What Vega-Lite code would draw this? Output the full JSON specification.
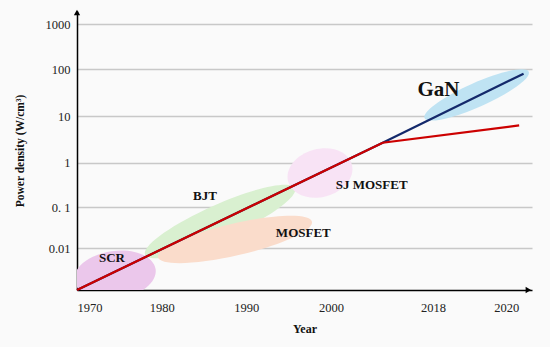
{
  "$schema": "https://vega.github.io/schema/vega-lite/v6.json",
  "autosize": "none",
  "width": 455,
  "height": 279,
  "padding": {"left": 77, "top": 11, "right": 18, "bottom": 57},
  "background": "#fafafa",
  "config": {"view": {"stroke": null}, "font": "Liberation Serif"},
  "datasets": {
    "regions": [
      {"name": "SCR", "year": 1974.49, "value": 0.00229},
      {"name": "BJT", "year": 1986.89, "value": 0.0451},
      {"name": "MOSFET", "year": 1988.66, "value": 0.0164},
      {"name": "SJ MOSFET", "year": 1998.7, "value": 0.587},
      {"name": "GaN", "year": 2019.19, "value": 28.2}
    ],
    "labels": [
      {"label": "SCR", "year": 1974.13, "value": 0.00585, "big": false},
      {"label": "BJT", "year": 1985.12, "value": 0.182, "big": false},
      {"label": "MOSFET", "year": 1996.73, "value": 0.0232, "big": false},
      {"label": "SJ MOSFET", "year": 2007.18, "value": 0.316, "big": false},
      {"label": "GaN", "year": 2018.15, "value": 36, "big": true}
    ],
    "trend": [
      {"series": "GaN", "year": 1970, "value": 0.001},
      {"series": "GaN", "year": 2009.12, "value": 2.68},
      {"series": "GaN", "year": 2020.47, "value": 80.5},
      {"series": "Si", "year": 1970, "value": 0.001},
      {"series": "Si", "year": 2009.12, "value": 2.68},
      {"series": "Si", "year": 2020.35, "value": 6.3}
    ],
    "arrows": [
      {"dir": "x", "year": 2020.6, "value": 0.001},
      {"dir": "y", "year": 1970, "value": 1850}
    ]
  },
  "encoding": {
    "x": {
      "field": "year", "type": "quantitative",
      "scale": {"type": "linear", "domain": [1970, 2000, 2018, 2020.7], "range": [0, 254, 356, 455], "nice": false, "zero": false},
      "axis": {
        "title": "Year", "values": [1970, 1980, 1990, 2000, 2018, 2020], "format": "d",
        "grid": false, "ticks": false, "domainColor": "#000000", "domainWidth": 1.5,
        "labelFont": "Liberation Serif", "labelFontSize": 12.5, "labelColor": "#222222", "labelPadding": 11,
        "titleFont": "Liberation Serif", "titleFontSize": 12, "titleFontWeight": "bold", "titleColor": "#111111", "titlePadding": 10
      }
    },
    "y": {
      "field": "value", "type": "quantitative",
      "scale": {"type": "log", "domain": [0.001, 0.01, 0.1, 1, 10, 100, 1000, 2000], "range": [279, 237.3, 196.3, 151.7, 105, 58.3, 13.3, 0], "nice": false, "zero": false},
      "axis": {
        "title": "Power density (W/cm³)", "values": [0.01, 0.1, 1, 10, 100, 1000],
        "labelExpr": "datum.value < 0.05 ? '0.01' : datum.value < 0.5 ? '0. 1' : format(datum.value, 'd')",
        "grid": true, "gridColor": "#c8c8c8", "gridWidth": 1.5,
        "ticks": false, "domainColor": "#000000", "domainWidth": 1.5,
        "labelFont": "Liberation Serif", "labelFontSize": 12.5, "labelColor": "#222222", "labelPadding": 7,
        "titleFont": "Liberation Serif", "titleFontSize": 11.5, "titleFontWeight": "bold", "titleColor": "#111111", "titlePadding": 20
      }
    }
  },
  "layer": [
    {
      "data": {"name": "regions"},
      "transform": [{"filter": "datum.name === 'BJT'"}],
      "mark": {"type": "point", "filled": true, "opacity": 1, "color": "#d9f0d0", "size": 26896, "angle": 336,
        "shape": "M 1 0 C 1 0.1143 0.5523 0.207 0 0.207 C -0.5523 0.207 -1 0.1143 -1 0 C -1 -0.1143 -0.5523 -0.207 0 -0.207 C 0.5523 -0.207 1 -0.1143 1 0 Z"}
    },
    {
      "data": {"name": "regions"},
      "transform": [{"filter": "datum.name === 'MOSFET'"}],
      "mark": {"type": "point", "filled": true, "opacity": 1, "color": "#fadccb", "size": 24964, "angle": 347,
        "shape": "M 1 0 C 1 0.1118 0.5523 0.2025 0 0.2025 C -0.5523 0.2025 -1 0.1118 -1 0 C -1 -0.1118 -0.5523 -0.2025 0 -0.2025 C 0.5523 -0.2025 1 -0.1118 1 0 Z"}
    },
    {
      "data": {"name": "regions"},
      "transform": [{"filter": "datum.name === 'SCR'"}],
      "mark": {"type": "point", "filled": true, "opacity": 1, "color": "#ebc7eb", "size": 6724, "angle": 352, "clip": true,
        "shape": "M 1 0 C 1 0.3231 0.5523 0.585 0 0.585 C -0.5523 0.585 -1 0.3231 -1 0 C -1 -0.3231 -0.5523 -0.585 0 -0.585 C 0.5523 -0.585 1 -0.3231 1 0 Z"}
    },
    {
      "data": {"name": "regions"},
      "transform": [{"filter": "datum.name === 'SJ MOSFET'"}],
      "mark": {"type": "point", "filled": true, "opacity": 1, "color": "#f8e3f5", "size": 4356, "angle": 345,
        "shape": "M 1 0 C 1 0.4015 0.5523 0.727 0 0.727 C -0.5523 0.727 -1 0.4015 -1 0 C -1 -0.4015 -0.5523 -0.727 0 -0.727 C 0.5523 -0.727 1 -0.4015 1 0 Z"}
    },
    {
      "data": {"name": "regions"},
      "transform": [{"filter": "datum.name === 'GaN'"}],
      "mark": {"type": "point", "filled": true, "opacity": 1, "color": "#bfe3f3", "size": 12996, "angle": 336,
        "shape": "M 1 0 C 1 0.116 0.5523 0.21 0 0.21 C -0.5523 0.21 -1 0.116 -1 0 C -1 -0.116 -0.5523 -0.21 0 -0.21 C 0.5523 -0.21 1 -0.116 1 0 Z"}
    },
    {
      "data": {"name": "trend"},
      "transform": [{"filter": "datum.series === 'GaN'"}],
      "mark": {"type": "line", "color": "#14296b", "strokeWidth": 2.2},
      "encoding": {"order": {"field": "year", "type": "quantitative"}}
    },
    {
      "data": {"name": "trend"},
      "transform": [{"filter": "datum.series === 'Si'"}],
      "mark": {"type": "line", "color": "#cc0000", "strokeWidth": 2.2},
      "encoding": {"order": {"field": "year", "type": "quantitative"}}
    },
    {
      "data": {"name": "arrows"},
      "transform": [{"filter": "datum.dir === 'x'"}],
      "mark": {"type": "point", "filled": true, "opacity": 1, "color": "#000000", "shape": "triangle-right", "size": 40}
    },
    {
      "data": {"name": "arrows"},
      "transform": [{"filter": "datum.dir === 'y'"}],
      "mark": {"type": "point", "filled": true, "opacity": 1, "color": "#000000", "shape": "triangle-up", "size": 40}
    },
    {
      "data": {"name": "labels"},
      "transform": [{"filter": "!datum.big"}],
      "mark": {"type": "text", "font": "Liberation Serif", "fontWeight": "bold", "fontSize": 13, "color": "#111111", "align": "center", "baseline": "middle"},
      "encoding": {"text": {"field": "label"}}
    },
    {
      "data": {"name": "labels"},
      "transform": [{"filter": "datum.big"}],
      "mark": {"type": "text", "font": "Liberation Serif", "fontWeight": "bold", "fontSize": 21, "color": "#111111", "align": "center", "baseline": "middle"},
      "encoding": {"text": {"field": "label"}}
    }
  ]
}
